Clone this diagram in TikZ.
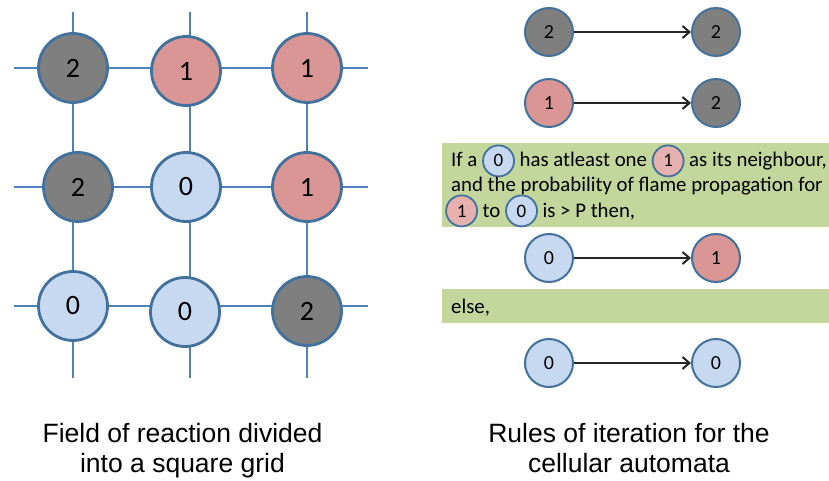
\documentclass[tikz,border=0pt]{standalone}
\usepackage{fontspec}
\setmainfont{Carlito}
\newfontfamily\capfont{Liberation Sans}
\usetikzlibrary{arrows.meta}
\definecolor{gridline}{HTML}{4F81BD}
\definecolor{cborder}{HTML}{41719C}
\definecolor{cgray}{HTML}{7F7F7F}
\definecolor{cpink}{HTML}{D99694}
\definecolor{cpinkl}{HTML}{E6B0AF}
\definecolor{cblue}{HTML}{C6D9F1}
\definecolor{cgreen}{HTML}{C3D69B}
\definecolor{carrow}{HTML}{262626}
\newcommand{\inc}[2]{\smash{\tikz[baseline=(ic.base)]\node[circle,draw=cborder,line width=1.8pt,fill=#2,minimum size=31pt,inner sep=0pt,font=\fontsize{19}{19}\selectfont] (ic) {#1};}}
\begin{document}
\begin{tikzpicture}[x=1pt,y=-1pt,
  gridln/.style={draw=gridline,line width=1.8pt},
  bigc/.style={circle,draw=cborder,line width=2.8pt,minimum size=69pt,inner sep=0pt,font=\fontsize{28}{28}\selectfont},
  rulec/.style={circle,draw=cborder,line width=2pt,minimum size=48pt,inner sep=0pt,font=\fontsize{20}{20}\selectfont},
  arr/.style={draw=carrow,line width=2pt,-{Straight Barb[length=7pt,width=12pt]}},
  body/.style={anchor=base west,inner sep=0pt,font=\fontsize{20.8}{24}\selectfont},
  captext/.style={align=center,inner sep=0pt,font=\capfont\fontsize{26.5}{30}\selectfont}]
\useasboundingbox (0,0) rectangle (829,481);
% grid lines
\foreach \yy in {68,187,306} \draw[gridln] (14,\yy) -- (368,\yy);
\foreach \xx in {73,190,307} \draw[gridln] (\xx,12) -- (\xx,378);
% grid cells
\node[bigc,fill=cgray] (g11) at (73,68) {2};
\node[bigc,fill=cpink] (g12) at (186,71) {1};
\node[bigc,fill=cpink] (g13) at (307,68) {1};
\node[bigc,fill=cgray] (g21) at (78,187) {2};
\node[bigc,fill=cblue] (g22) at (186,187) {0};
\node[bigc,fill=cpink] (g23) at (307,187) {1};
\node[bigc,fill=cblue] (g31) at (73,306) {0};
\node[bigc,fill=cblue] (g32) at (185,312) {0};
\node[bigc,fill=cgray] (g33) at (307,311) {2};
% green boxes
\fill[cgreen] (442,143) rectangle (829,227);
\fill[cgreen] (442,289) rectangle (829,323);
% rules
\node[rulec,fill=cgray] (a1) at (549,32) {2};
\node[rulec,fill=cgray] (b1) at (716,32) {2};
\node[rulec,fill=cpink] (a2) at (549,103) {1};
\node[rulec,fill=cgray] (b2) at (716,103) {2};
\node[rulec,fill=cblue] (a3) at (549,258) {0};
\node[rulec,fill=cpink] (b3) at (716,258) {1};
\node[rulec,fill=cblue] (a4) at (549,363) {0};
\node[rulec,fill=cblue] (b4) at (716,363) {0};
\draw[arr] (a1) -- (b1);
\draw[arr] (a2) -- (b2);
\draw[arr] (a3) -- (b3);
\draw[arr] (a4) -- (b4);
% texts
\node[body] (t1) at (451,167) {If a \inc{0}{cblue} has atleast one \inc{1}{cpinkl} as its neighbour,};
\node[body] (t2) at (451,192) {and the probability of flame propagation for};
\node[body] (t3) at (445,217) {\inc{1}{cpinkl} to \inc{0}{cblue} is > P then,};
\node[body] (t4) at (451,313) {else,};
% captions
\node[captext,anchor=base] (c1) at (182.5,472) {Field of reaction divided\\into a square grid};
\node[captext,anchor=base] (c2) at (629,472) {Rules of iteration for the\\cellular automata};
\end{tikzpicture}
\end{document}
